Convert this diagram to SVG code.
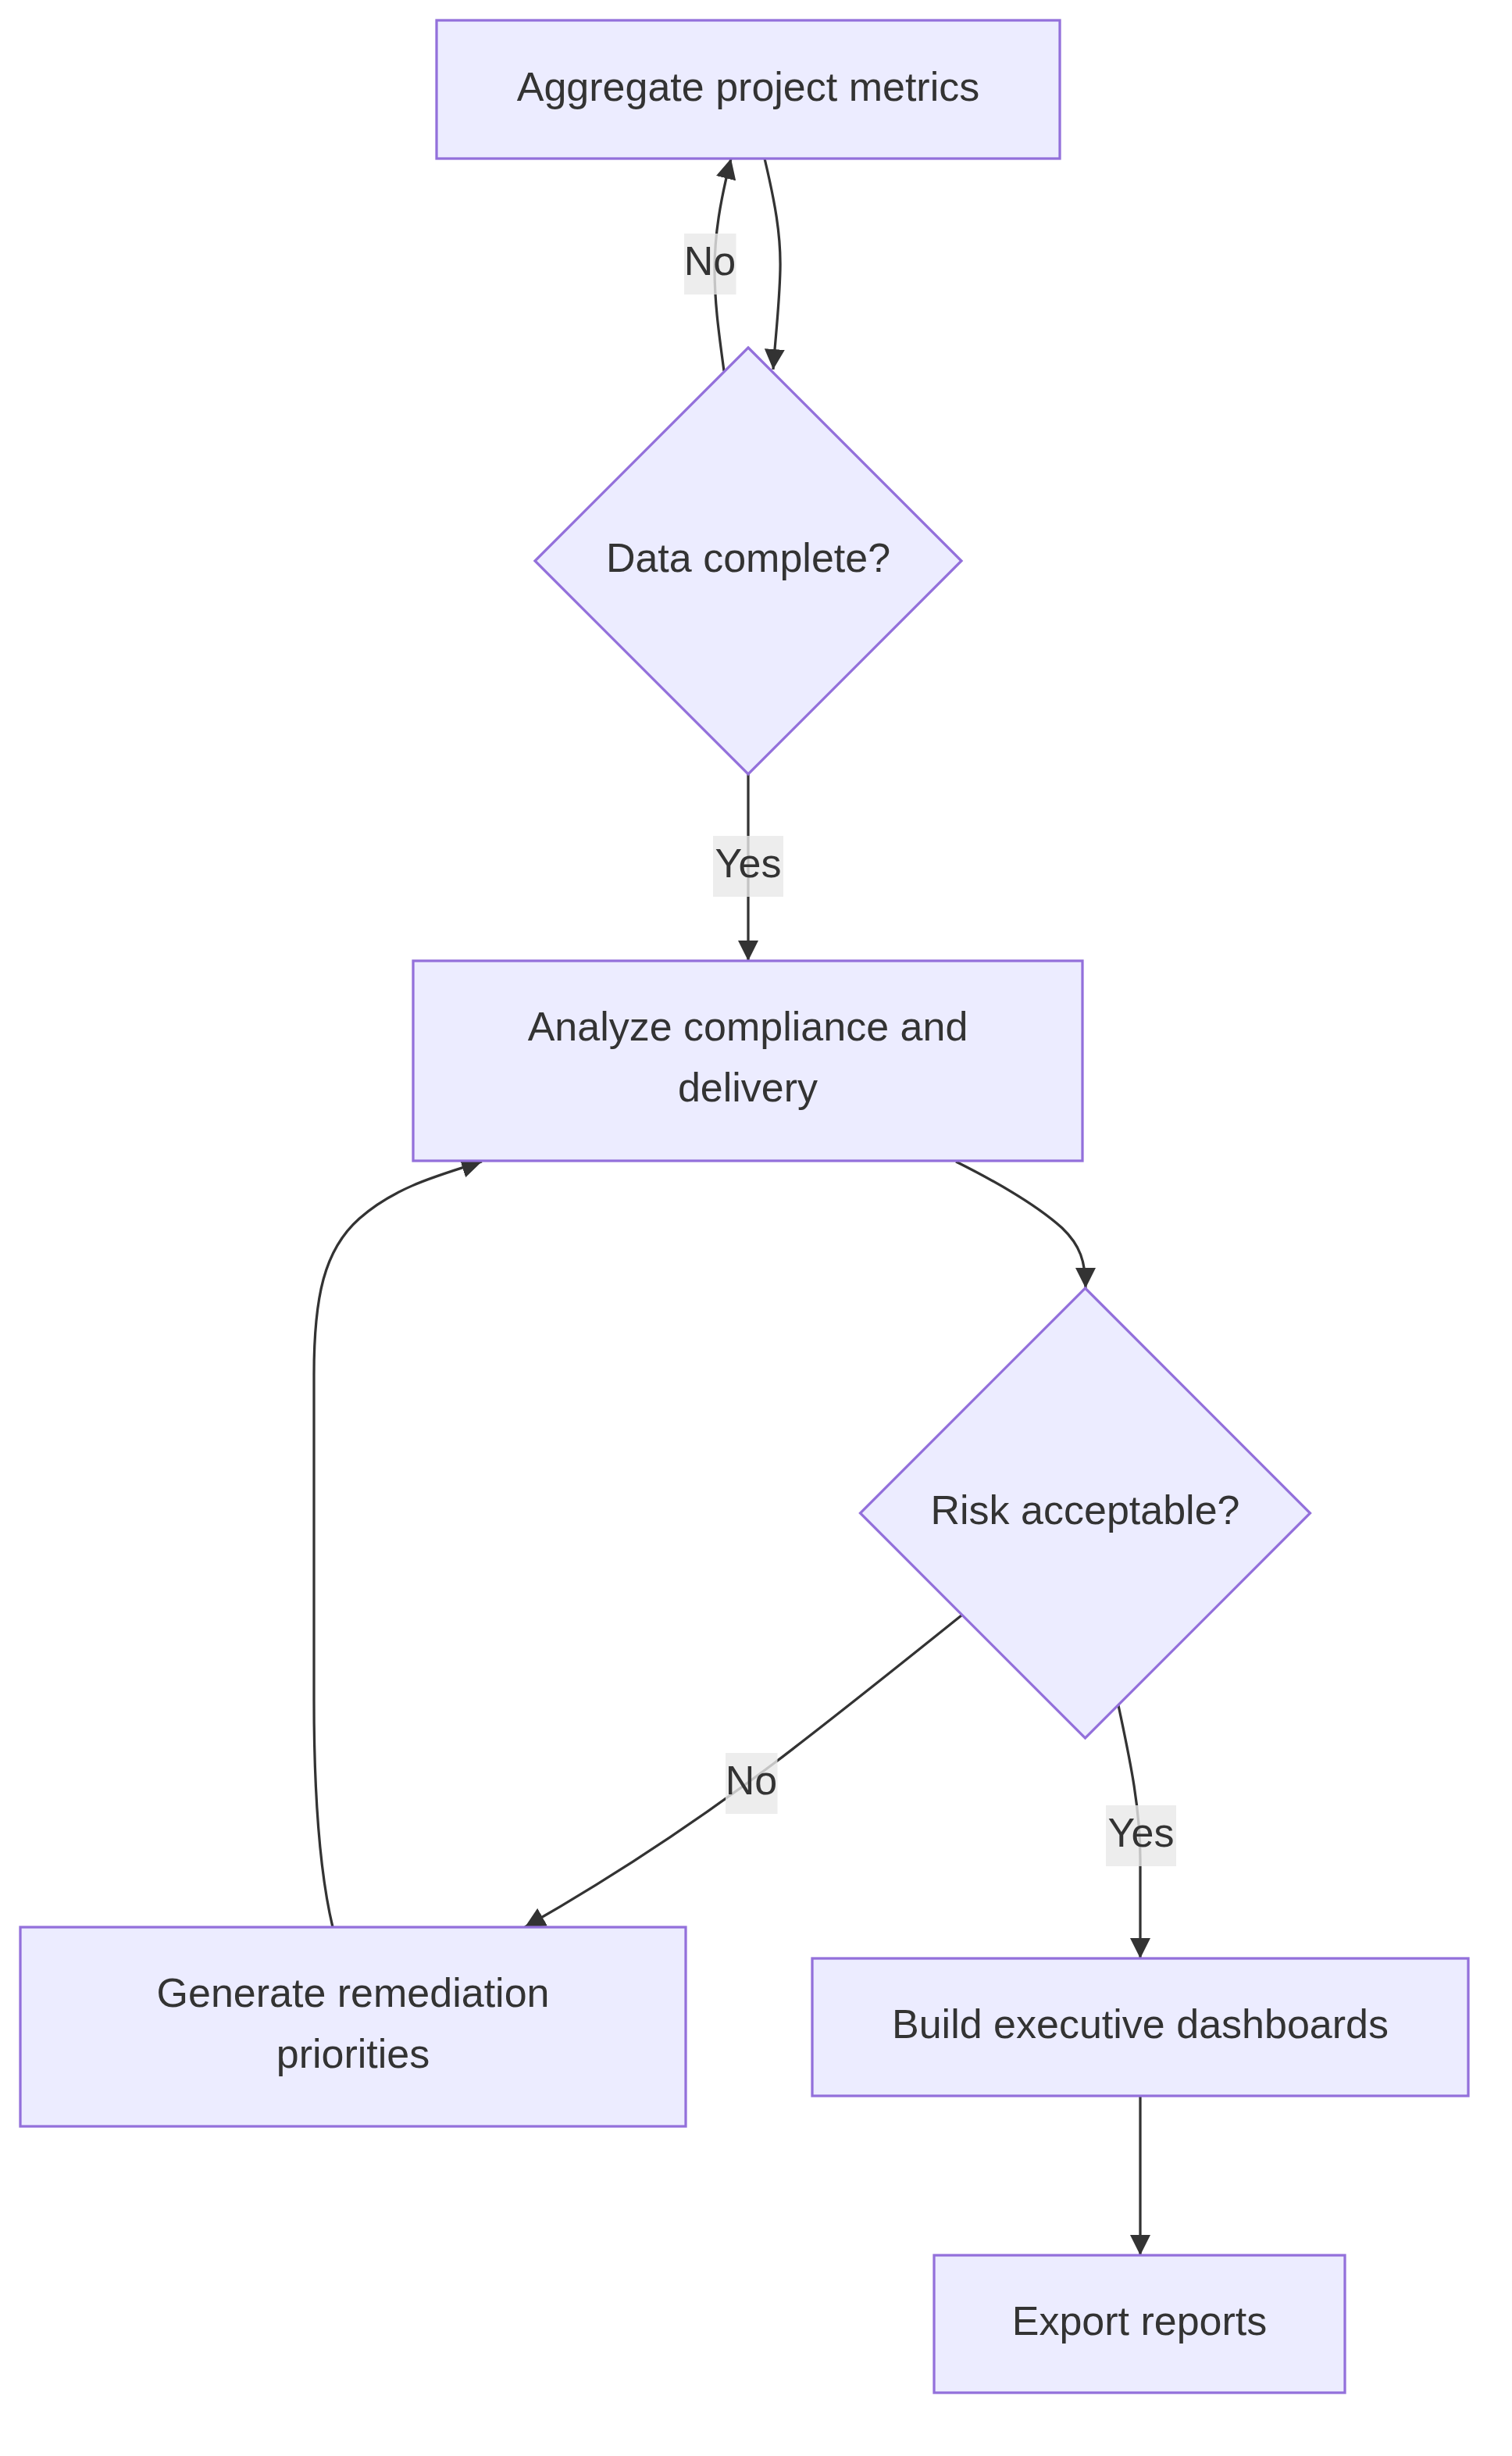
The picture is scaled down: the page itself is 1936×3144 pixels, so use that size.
<svg xmlns="http://www.w3.org/2000/svg" width="1936" height="3144" viewBox="0 0 1936 3144">
<style>
.node rect, .node polygon { fill: #ECECFF; stroke: #9370DB; stroke-width: 3.25; }
.label { font-family: "Liberation Sans", Arial, sans-serif; font-size: 52px; fill: #333333; text-anchor: middle; }
.edge { fill: none; stroke: #333333; stroke-width: 3.25; marker-end: url(#arrow); }
.elbg { fill: rgba(232,232,232,0.8); }
</style>
<defs>
<marker id="arrow" viewBox="0 0 10 10" refX="10" refY="5" markerUnits="userSpaceOnUse" markerWidth="26" markerHeight="26" orient="auto">
<path d="M0,0 L10,5 L0,10 z" fill="#333333"/>
</marker>
</defs>
<rect x="0" y="0" width="1936" height="3144" fill="#ffffff"/>
<g id="edges">
<path class="edge" d="M979,203 C992,258 1000,300 999,345 C998,390 993,430 990,473"/>
<path class="edge" d="M927,475 C921,430 915,390 915,345 C915,300 922,258 936,203"/>
<path class="edge" d="M958,991 L958,1230"/>
<path class="edge" d="M1224,1487 C1280,1515 1330,1545 1360,1572 C1383,1594 1390,1615 1390,1649"/>
<path class="edge" d="M1231,2068 C1150,2133 1060,2205 990,2258 C890,2333 790,2400 672,2467"/>
<path class="edge" d="M1432,2183 C1445,2245 1460,2310 1460,2380 L1460,2507"/>
<path class="edge" d="M1460,2683 L1460,2887"/>
<path class="edge" d="M426,2467 C410,2400 402,2300 402,2175 L402,1760 C402,1660 415,1600 460,1560 C505,1520 560,1505 617,1487"/>
</g>
<g id="node-A" class="node">
<rect x="559" y="26" width="798" height="177"/>
<text class="label" x="958" y="128.5">Aggregate project metrics</text>
</g>
<g id="node-B" class="node">
<polygon points="958,445 1231,718 958,991 685,718"/>
<text class="label" x="958" y="732">Data complete?</text>
</g>
<g id="node-C" class="node">
<rect x="529" y="1230" width="857" height="256"/>
<text class="label" x="957.5" y="1332">Analyze compliance and</text>
<text class="label" x="957.5" y="1410">delivery</text>
</g>
<g id="node-D" class="node">
<polygon points="1389.5,1649 1677.5,1937 1389.5,2225 1101.5,1937"/>
<text class="label" x="1389.5" y="1951">Risk acceptable?</text>
</g>
<g id="node-E" class="node">
<rect x="26" y="2467" width="852" height="255"/>
<text class="label" x="452" y="2569">Generate remediation</text>
<text class="label" x="452" y="2647">priorities</text>
</g>
<g id="node-F" class="node">
<rect x="1040" y="2507" width="840" height="176"/>
<text class="label" x="1460" y="2609">Build executive dashboards</text>
</g>
<g id="node-G" class="node">
<rect x="1196" y="2887" width="526" height="176"/>
<text class="label" x="1459" y="2989">Export reports</text>
</g>
<g id="edge-labels">
<g id="label-no-1"><rect class="elbg" x="876" y="299" width="66.5" height="78"/><text class="label" x="909" y="352">No</text></g>
<g id="label-yes-1"><rect class="elbg" x="913" y="1070" width="90" height="78"/><text class="label" x="958" y="1123">Yes</text></g>
<g id="label-no-2"><rect class="elbg" x="929" y="2244" width="66.5" height="78"/><text class="label" x="962" y="2297">No</text></g>
<g id="label-yes-2"><rect class="elbg" x="1416" y="2311" width="90" height="78"/><text class="label" x="1461" y="2364">Yes</text></g>
</g>
</svg>
